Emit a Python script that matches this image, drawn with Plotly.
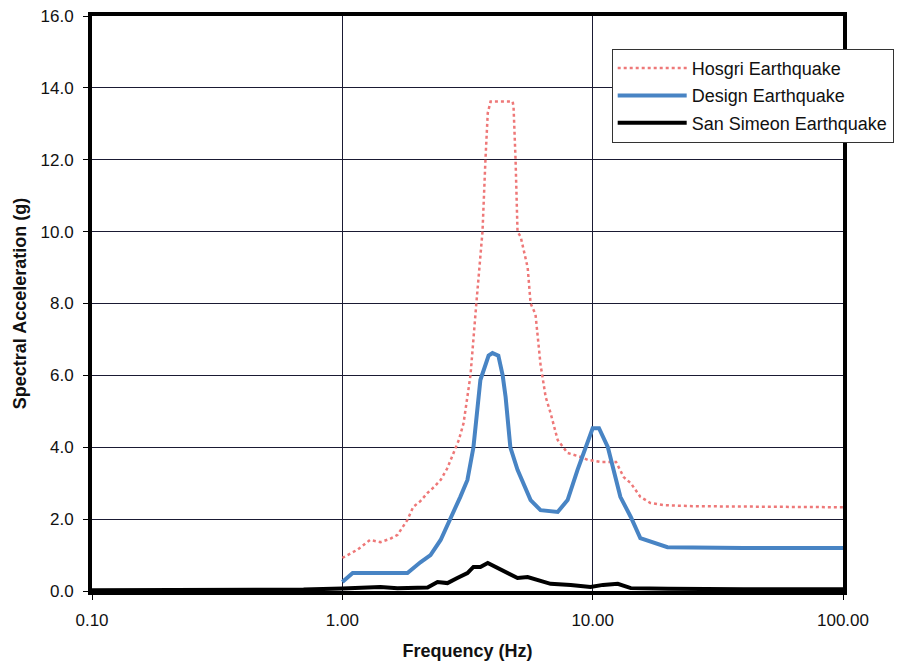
import plotly.graph_objects as go

hosgri_f = [1.0, 1.15, 1.29, 1.42, 1.55, 1.66, 1.82, 1.92, 2.05, 2.19, 2.33, 2.47, 2.62, 2.78, 2.92, 3.05,
            3.25, 3.43, 3.63, 3.73, 3.81, 3.91, 4.2, 4.5, 4.79, 4.83, 4.92, 5.01, 5.16, 5.50, 5.65, 5.91,
            6.19, 6.49, 6.79, 7.25, 7.94, 8.95, 9.55, 10.75, 11.5, 12.4, 13.3, 14.2, 15.5, 17.0, 19.2,
            25, 40, 60, 100]
hosgri_v = [0.92, 1.15, 1.42, 1.36, 1.45, 1.56, 1.98, 2.34, 2.5, 2.73, 2.9, 3.09, 3.4, 3.84, 4.2, 4.67,
            6.0, 8.0, 10.0, 12.0, 13.3, 13.62, 13.62, 13.62, 13.62, 13.47, 12.0, 10.0, 9.85, 9.0, 8.0, 7.7,
            6.3, 5.4, 4.95, 4.2, 3.84, 3.73, 3.65, 3.59, 3.59, 3.59, 3.17, 3.0, 2.62, 2.45, 2.39,
            2.36, 2.35, 2.34, 2.33]

design_f = [1.0, 1.1, 1.3, 1.5, 1.82, 2.05, 2.25, 2.47, 2.70, 2.96, 3.16, 3.34, 3.56, 3.75, 3.84, 3.98,
            4.2, 4.37, 4.49, 4.69, 5.01, 5.65, 6.19, 7.25, 7.94, 8.7, 9.55, 10.0, 10.6, 11.5, 12.9, 14.2,
            15.5, 19.9, 40, 100]
design_v = [0.25, 0.5, 0.5, 0.5, 0.5, 0.8, 1.0, 1.42, 1.98, 2.62, 3.09, 4.0, 5.87, 6.3, 6.55, 6.62,
            6.55, 6.0, 5.4, 4.0, 3.37, 2.53, 2.25, 2.2, 2.53, 3.37, 4.12, 4.53, 4.53, 4.0, 2.62, 2.06,
            1.47, 1.22, 1.2, 1.2]

simeon_f = [0.1, 0.2, 0.3, 0.5, 0.7, 1.0, 1.2, 1.42, 1.66, 1.92, 2.19, 2.4, 2.63, 2.88, 3.16, 3.34, 3.56,
            3.81, 4.17, 4.57, 5.01, 5.5, 6.03, 6.79, 8.17, 9.8, 11.0, 12.6, 14.2, 20, 40, 100]
simeon_v = [0.02, 0.02, 0.03, 0.03, 0.04, 0.07, 0.09, 0.11, 0.08, 0.1, 0.1, 0.25, 0.22, 0.36, 0.5, 0.67, 0.67,
            0.78, 0.64, 0.5, 0.36, 0.39, 0.31, 0.2, 0.17, 0.11, 0.17, 0.2, 0.08, 0.06, 0.05, 0.05]

x_ticks = [0.1, 1, 10, 100]
x_ticktext = ["0.10", "1.00", "10.00", "100.00"]

fig = go.Figure()
fig.add_trace(go.Scatter(x=hosgri_f, y=hosgri_v, mode="lines", name="Hosgri Earthquake",
                         line=dict(color="rgb(238,120,120)", width=2.5, dash="dot"), legendgroup="a"))
fig.add_trace(go.Scatter(x=design_f, y=design_v, mode="lines", name="Design Earthquake",
                         line=dict(color="rgb(72,132,196)", width=4), legendgroup="b"))
fig.add_trace(go.Scatter(x=simeon_f, y=simeon_v, mode="lines", name="San Simeon Earthquake",
                         line=dict(color="black", width=4), legendgroup="c"))

fig.update_layout(
    width=897, height=667,
    margin=dict(l=92, r=54, t=16, b=76, autoexpand=False),
    paper_bgcolor="white", plot_bgcolor="white",
    font=dict(family="Liberation Sans, Arial, sans-serif", size=17, color="#111"),
    showlegend=True,
    legend=dict(x=0.692, y=0.943, xanchor="left", yanchor="top",
                bgcolor="white", bordercolor="#333", borderwidth=1,
                font=dict(size=18), tracegroupgap=1, itemwidth=69),
    xaxis=dict(type="log", range=[-1, 2], tickvals=x_ticks, ticktext=x_ticktext,
               showgrid=True, gridcolor="#1a1a33", gridwidth=1, automargin=False,
               showline=True, linecolor="black", linewidth=4, mirror=True,
               ticks="outside", ticklen=5, tickcolor="black", ticklabelstandoff=6,
               title=dict(text="<b>Frequency (Hz)</b>", font=dict(size=18), standoff=16),
               zeroline=False),
    yaxis=dict(range=[0, 16], dtick=2, tickformat=".1f",
               showgrid=True, gridcolor="#1a1a33", gridwidth=1, automargin=False,
               showline=True, linecolor="black", linewidth=4, mirror=True,
               ticks="outside", ticklen=5, tickcolor="black", ticklabelstandoff=6,
               title=dict(text="<b>Spectral Acceleration (g)</b>", font=dict(size=18), standoff=10),
               zeroline=False),
)

fig.write_html("out.html")
